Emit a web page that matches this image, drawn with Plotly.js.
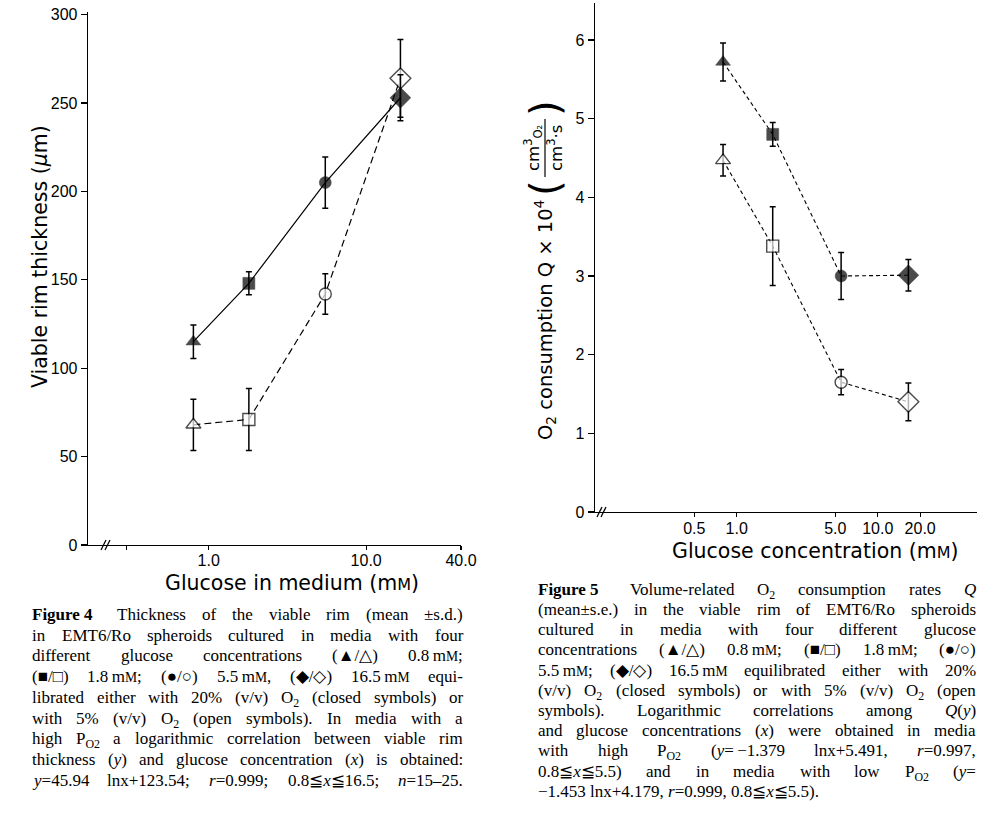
<!DOCTYPE html>
<html><head><meta charset="utf-8">
<script src="https://cdn.plot.ly/plotly-3.0.1.min.js"></script>
<style>body{margin:0;background:#fff}#chart{width:985px;height:813px}</style>
</head><body><div id="chart"></div>
<script>
// ---------------- data ----------------
const glucose = [0.8, 1.8, 5.5, 16.5];
const rimClosed = [115, 148, 205, 253];
const rimClosedErr = [9.5, 6.5, 14.5, 13];
const rimOpen = [68, 71, 142, 264];
const rimOpenErr = [14.5, 17.5, 11.5, 22];
const qClosed = [5.72, 4.8, 3.0, 3.01];
const qClosedErr = [0.24, 0.15, 0.3, 0.2];
const qOpen = [4.47, 3.38, 1.65, 1.4];
const qOpenErr = [0.2, 0.5, 0.16, 0.24];
const symbols = ['triangle-up', 'square', 'circle', 'diamond'];
const rimYTicks = [0, 50, 100, 150, 200, 250, 300];
const rimXTicks = [0.3, 1, 10, 40];
const rimXLabels = ['', '1.0', '10.0', '40.0'];
const qYTicks = [0, 1, 2, 3, 4, 5, 6];
const qXTicks = [0.5, 1, 5, 10, 20];
const qXLabels = ['0.5', '1.0', '5.0', '10.0', '20.0'];

const cap4 = [
  "*Figure\u00a04\u2002* Thickness of the viable rim (mean ±s.d.)",
  "in EMT6/Ro spheroids cultured in media with four",
  "different glucose concentrations (▲/△) 0.8\u2009m^M^;",
  "(■/□) 1.8\u2009m^M^; (●/○) 5.5\u2009m^M^, (◆/◇) 16.5\u2009m^M^ equi-",
  "librated either with 20% (v/v) O~2~ (closed symbols) or",
  "with 5% (v/v) O~2~ (open symbols). In media with a",
  "high P~O2~ a logarithmic correlation between viable rim",
  "thickness (_y_) and glucose concentration (_x_) is obtained:",
  "_y_=45.94 lnx+123.54; _r_=0.999; 0.8≦_x_≦16.5; _n_=15–25."
];
const cap5 = [
  "*Figure\u00a05\u2002* Volume-related O~2~ consumption rates _Q_",
  "(mean±s.e.) in the viable rim of EMT6/Ro spheroids",
  "cultured in media with four different glucose",
  "concentrations (▲/△) 0.8\u2009m^M^; (■/□) 1.8\u2009m^M^; (●/○)",
  "5.5\u2009m^M^; (◆/◇) 16.5\u2009m^M^ equilibrated either with 20%",
  "(v/v) O~2~ (closed symbols) or with 5% (v/v) O~2~ (open",
  "symbols). Logarithmic correlations among _Q_(_y_)",
  "and glucose concentrations (_x_) were obtained in media",
  "with high P~O2~ (_y_=\u2009−1.379 lnx+5.491, _r_=0.997,",
  "0.8≦_x_≦5.5) and in media with low P~O2~ (_y_=",
  "−1.453 lnx+4.179, _r_=0.999, 0.8≦_x_≦5.5)."
];

// ---------------- layout helpers ----------------
const W = 985, H = 813;
const px = v => v / W;
const py = v => 1 - v / H;

const tickFont = {family: 'Liberation Sans, Arial, sans-serif', size: 16, color: '#000'};
const titleFont = {family: 'DejaVu Sans, sans-serif', size: 20.5, color: '#000'};

function markerFor(open) {
  return {
    symbol: symbols,
    size: [13, 12, 12, 16],
    color: open ? '#fff' : '#000',
    line: {color: '#000', width: open ? 1.4 : 0.5}
  };
}
function errFor(arr) {
  return {type: 'data', array: arr, visible: true, color: '#000', thickness: 1.5, width: 3};
}

const traces = [
  {x: glucose, y: rimOpen, xaxis: 'x', yaxis: 'y', mode: 'lines+markers',
   line: {color: '#000', width: 1.2, dash: '7px,4px'}, marker: markerFor(true), error_y: errFor(rimOpenErr), hoverinfo: 'skip'},
  {x: glucose, y: rimClosed, xaxis: 'x', yaxis: 'y', mode: 'lines+markers',
   line: {color: '#000', width: 1.2}, marker: markerFor(false), error_y: errFor(rimClosedErr), hoverinfo: 'skip'},
  {x: glucose, y: qOpen, xaxis: 'x2', yaxis: 'y2', mode: 'lines+markers',
   line: {color: '#000', width: 1.1, dash: '4px,3px'}, marker: markerFor(true), error_y: errFor(qOpenErr), hoverinfo: 'skip'},
  {x: glucose, y: qClosed, xaxis: 'x2', yaxis: 'y2', mode: 'lines+markers',
   line: {color: '#000', width: 1.1, dash: '4px,3px'}, marker: markerFor(false), error_y: errFor(qClosedErr), hoverinfo: 'skip'}
];

const axisBase = {showline: true, linecolor: '#000', linewidth: 1.3, ticks: 'outside', ticklen: 6, tickwidth: 1.3,
  tickcolor: '#000', showgrid: false, zeroline: false, tickfont: tickFont, fixedrange: true};

const layout = {
  width: W, height: H, margin: {l: 0, r: 0, t: 0, b: 0},
  paper_bgcolor: '#fff', plot_bgcolor: 'rgba(0,0,0,0)', showlegend: false,
  font: tickFont,
  xaxis: Object.assign({}, axisBase, {type: 'log', domain: [px(88), px(461)], range: [-0.766, 1.602], ticklen: 4,
    ticklabelstandoff: -4, tickmode: 'array', tickvals: rimXTicks, ticktext: rimXLabels, anchor: 'y'}),
  yaxis: Object.assign({}, axisBase, {domain: [py(545), py(12)], range: [0, 301.5],
    tickmode: 'array', tickvals: rimYTicks, anchor: 'x'}),
  xaxis2: Object.assign({}, axisBase, {type: 'log', domain: [px(595), px(977)], range: [-1.005, 1.704], ticklen: 4,
    ticklabelstandoff: -3, tickmode: 'array', tickvals: qXTicks, ticktext: qXLabels, anchor: 'y2'}),
  yaxis2: Object.assign({}, axisBase, {domain: [py(512), py(3)], range: [0, 6.47],
    tickmode: 'array', tickvals: qYTicks, anchor: 'x2'}),
  shapes: [],
  annotations: []
};

// axis-break marks
function brk(x, y) {
  [0, 4].forEach(d => layout.shapes.push({type: 'line', xref: 'paper', yref: 'paper',
    x0: px(x - 3 + d), y0: py(y + 5), x1: px(x + 2 + d), y1: py(y - 5), line: {color: '#000', width: 1.3}}));
}
brk(104, 545);
brk(600, 512);

const ann = layout.annotations;
function txt(text, x, y, font, extra) {
  ann.push(Object.assign({text, x: px(x), y: py(y), xref: 'paper', yref: 'paper', showarrow: false,
    xanchor: 'center', yanchor: 'middle', font, borderpad: 0, borderwidth: 0}, extra || {}));
}
// axis titles
txt('Glucose in medium (m<span style="font-size:16px">M</span>)', 292, 583, titleFont);
txt('Glucose concentration (m<span style="font-size:16px">M</span>)', 815, 551, titleFont);
txt('Viable rim thickness (<i>μ</i>m)', 40, 257, titleFont, {textangle: -90});
txt('O<sub>2</sub> consumption Q × 10<sup>4</sup>', 545, 320, {family: 'DejaVu Sans, sans-serif', size: 19.5, color: '#000'}, {textangle: -90});
const fracFont = {family: 'DejaVu Sans, sans-serif', size: 16.5, color: '#000'};
txt('cm<sup>3</sup><sub>O₂</sub>', 533, 148, fracFont, {textangle: -90});
txt('cm<sup>3</sup>·s', 555, 148, fracFont, {textangle: -90});
txt('(', 545, 188, {family: 'DejaVu Sans, sans-serif', size: 40, color: '#000'}, {textangle: -90});
txt(')', 545, 108, {family: 'DejaVu Sans, sans-serif', size: 40, color: '#000'}, {textangle: -90});
layout.shapes.push({type: 'line', xref: 'paper', yref: 'paper', x0: px(545), x1: px(545), y0: py(119), y1: py(177),
  line: {color: '#000', width: 1.2}});

// ---------------- justified captions ----------------
const CAP_FONT = 'Liberation Serif';
const cv = document.createElement('canvas');
const ctx = cv.getContext('2d');
function parseToken(tok) {
  const segs = []; let st = {b: false, i: false, s: false, c: false}; let cur = '';
  const flush = () => { if (cur) { segs.push(Object.assign({t: cur}, st)); cur = ''; } };
  for (const ch of tok) {
    if (ch === '*') { flush(); st = Object.assign({}, st, {b: !st.b}); }
    else if (ch === '_') { flush(); st = Object.assign({}, st, {i: !st.i}); }
    else if (ch === '~') { flush(); st = Object.assign({}, st, {s: !st.s}); }
    else if (ch === '^') { flush(); st = Object.assign({}, st, {c: !st.c}); }
    else cur += ch;
  }
  flush(); return segs;
}
function segWidth(sg, fs) {
  const size = fs * (sg.s ? 0.7 : 1) * (sg.c ? 0.8 : 1);
  ctx.font = (sg.i ? 'italic ' : '') + (sg.b ? 'bold ' : '') + size + 'px "' + CAP_FONT + '"';
  return ctx.measureText(sg.t).width;
}
function segHtml(sg, fs) {
  let h = sg.t.replace(/&/g, '&amp;').replace(/</g, '&lt;');
  if (sg.c) h = '<span style="font-size:' + (fs * 0.8).toFixed(1) + 'px">' + h + '</span>';
  if (sg.s) h = '<sub>' + h + '</sub>';
  if (sg.i) h = '<i>' + h + '</i>';
  if (sg.b) h = '<b>' + h + '</b>';
  return h;
}
function caption(lines, x0, x1, yc0, dy, fs, lastNatural) {
  ctx.font = fs + 'px "' + CAP_FONT + '"';
  const spaceW = ctx.measureText(' ').width;
  lines.forEach((line, li) => {
    const toks = line.split(' ').map(t => {
      const segs = parseToken(t);
      return {segs, w: segs.reduce((a, s) => a + segWidth(s, fs), 0), html: segs.map(s => segHtml(s, fs)).join('')};
    });
    const total = toks.reduce((a, t) => a + t.w, 0);
    let gap = spaceW;
    if (!(lastNatural && li === lines.length - 1) && toks.length > 1) gap = Math.max(2, (x1 - x0 - total) / (toks.length - 1));
    let x = x0;
    const top = yc0 + li * dy - 0.66 * fs;
    toks.forEach(t => {
      ann.push({text: t.html, x: px(x), y: py(top), xref: 'paper', yref: 'paper', xanchor: 'left', yanchor: 'top',
        showarrow: false, borderpad: 0, borderwidth: 0, font: {family: CAP_FONT, size: fs, color: '#000'}});
      x += t.w + gap;
    });
  });
}
caption(cap4, 32, 463, 616, 20.75, 17, false);
caption(cap5, 538, 976, 591, 20.2, 17, true);

Plotly.newPlot('chart', traces, layout, {displayModeBar: false, staticPlot: true});
</script>
</body></html>
